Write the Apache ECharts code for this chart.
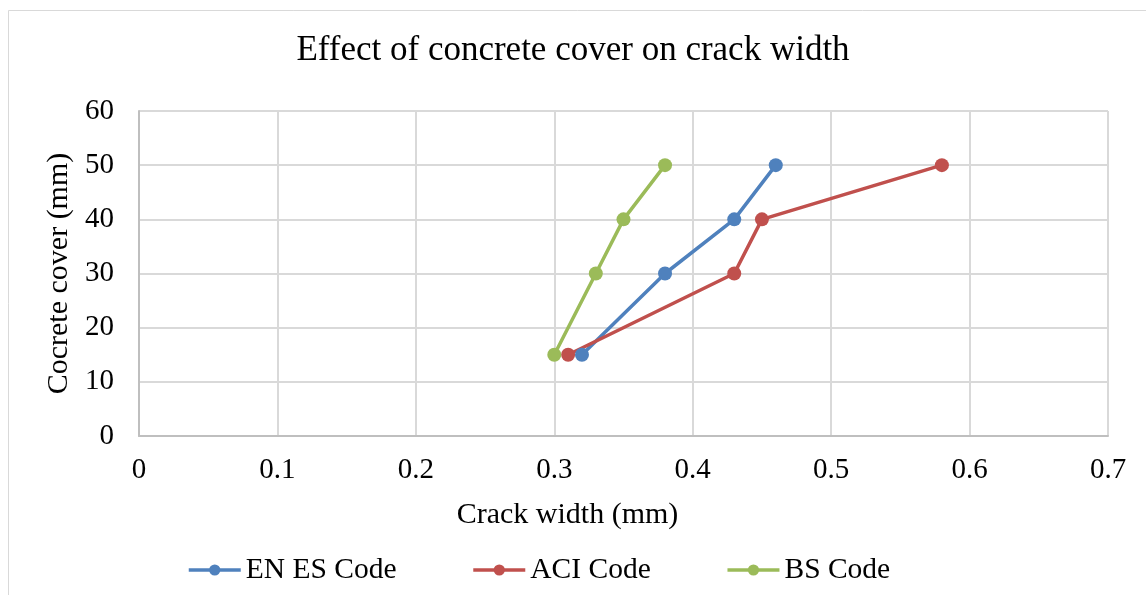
<!DOCTYPE html>
<html>
<head>
<meta charset="utf-8">
<script src="https://cdn.jsdelivr.net/npm/echarts@6/dist/echarts.min.js"></script>
<style>
html,body{margin:0;padding:0;background:#fff;}
#chart{width:1146px;height:595px;}
</style>
</head>
<body>
<div id="chart"></div>
<script>
const seriesNames = ['EN ES Code', 'ACI Code', 'BS Code'];
const cover = [15, 30, 40, 50];
const enEsWidth = [0.32, 0.38, 0.43, 0.46];
const aciWidth = [0.31, 0.43, 0.45, 0.58];
const bsWidth = [0.30, 0.33, 0.35, 0.38];
const colors = ['#4f81bd', '#c0504d', '#9bbb59'];

const font = '"Liberation Serif", "Times New Roman", serif';
const pairs = (xs) => xs.map((x, i) => [x, cover[i]]);

const chart = echarts.init(document.getElementById('chart'));
chart.setOption({
  backgroundColor: '#fff',
  animation: false,
  color: colors,
  graphic: [{
    type: 'rect',
    shape: { x: 8.5, y: 10.5, width: 1145, height: 600 },
    style: { fill: 'none', stroke: '#d9d9d9', lineWidth: 1 },
    silent: true
  }],
  title: {
    text: 'Effect of concrete cover on crack width',
    left: 'center',
    top: 28,
    textStyle: { fontFamily: font, fontSize: 35, fontWeight: 'normal', color: '#000' }
  },
  grid: { left: 139, top: 111, right: 38, bottom: 159, containLabel: false },
  legend: {
    bottom: 5,
    left: 182,
    itemWidth: 52,
    itemHeight: 14,
    itemGap: 75,
    lineStyle: { width: 3.5 },
    textStyle: { fontFamily: font, fontSize: 29.5, color: '#000' },
    data: seriesNames
  },
  xAxis: {
    type: 'value',
    min: 0, max: 0.7, interval: 0.1,
    name: 'Crack width (mm)',
    nameLocation: 'middle',
    nameGap: 64,
    nameTextStyle: { fontFamily: font, fontSize: 30, color: '#000', padding: [0, 112, 0, 0] },
    axisLine: { show: true, lineStyle: { color: '#bfbfbf', width: 2 } },
    axisTick: { show: false },
    axisLabel: {
      fontFamily: font, fontSize: 29, color: '#000', margin: 20,
      formatter: (v) => String(Math.round(v * 10) / 10)
    },
    splitLine: { show: true, lineStyle: { color: '#d9d9d9', width: 2 } }
  },
  yAxis: {
    type: 'value',
    min: 0, max: 60, interval: 10,
    name: 'Cocrete cover (mm)',
    nameLocation: 'middle',
    nameGap: 64,
    nameRotate: 90,
    nameTextStyle: { fontFamily: font, fontSize: 30, color: '#000' },
    axisLine: { show: true, lineStyle: { color: '#bfbfbf', width: 2 } },
    axisTick: { show: false },
    axisLabel: { fontFamily: font, fontSize: 29, color: '#000', margin: 25 },
    splitLine: { show: true, lineStyle: { color: '#d9d9d9', width: 2 } }
  },
  series: [
    { name: seriesNames[0], data: pairs(enEsWidth) },
    { name: seriesNames[1], data: pairs(aciWidth) },
    { name: seriesNames[2], data: pairs(bsWidth) }
  ].map((s, i) => ({
    ...s,
    type: 'line',
    symbol: 'circle',
    symbolSize: 14,
    lineStyle: { width: 3.5, color: colors[i] },
    itemStyle: { color: colors[i] }
  }))
});
</script>
</body>
</html>
